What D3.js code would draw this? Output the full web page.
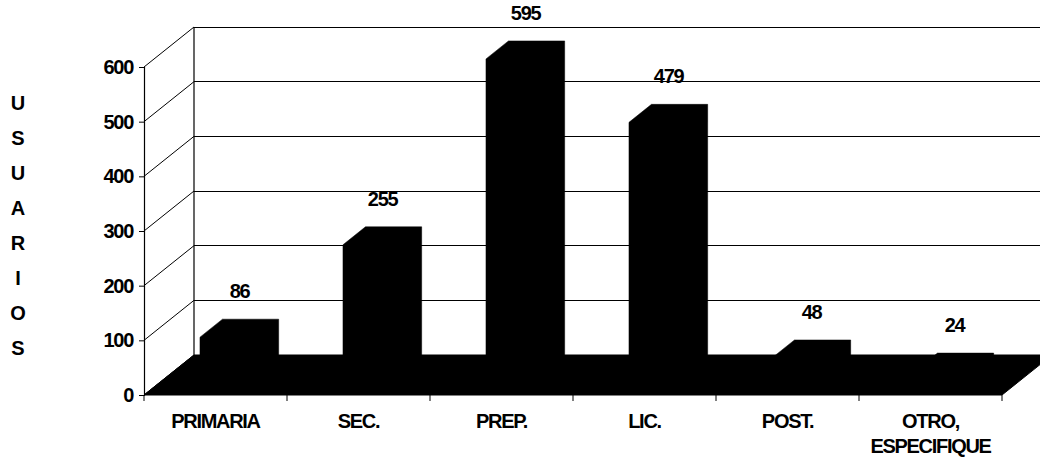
<!DOCTYPE html>
<html>
<head>
<meta charset="utf-8">
<script src="https://cdn.jsdelivr.net/npm/d3@7/dist/d3.min.js"></script>
<style>
  html, body { margin: 0; padding: 0; background: #fff; }
  svg { display: block; }
  text { font-family: "Liberation Sans", Arial, sans-serif; fill: #000; font-weight: bold; }
</style>
</head>
<body>
<svg id="chart" width="1040" height="465"></svg>
<script>
// Usuarios por nivel de estudios
const categories = ["PRIMARIA", "SEC.", "PREP.", "LIC.", "POST.", "OTRO, ESPECIFIQUE"];
const values = [86, 255, 595, 479, 48, 24];
const yTicks = [0, 100, 200, 300, 400, 500, 600];
const axisTitle = "USUARIOS";

const svg = d3.select("#chart");

// Front plane scales
const x = d3.scaleBand().domain(categories).range([144, 1002]).paddingInner(0).paddingOuter(0);
const y = d3.scaleLinear().domain([0, 600]).range([395, 67]);

// Oblique depth of the 3D box (full depth offset)
const DX = 50, DY = -40;
const P = (px, py, d) => [px + DX * d, py + DY * d];

// Bar placement inside a band and along the depth
const barFrom = 0.297, barTo = 0.69;
const depthFront = 0.27, depthBack = 0.72;

const g = svg.append("g");

// Back wall gridlines
g.append("g").selectAll("line").data(yTicks.filter(t => t > 0)).join("line")
  .attr("x1", P(x.range()[0], 0, 1)[0])
  .attr("x2", P(x.range()[1], 0, 1)[0])
  .attr("y1", d => P(0, y(d), 1)[1])
  .attr("y2", d => P(0, y(d), 1)[1])
  .attr("stroke", "#000").attr("stroke-width", 1).attr("shape-rendering", "crispEdges");

// Side wall gridlines
g.append("g").selectAll("line").data(yTicks).join("line")
  .attr("x1", x.range()[0]).attr("y1", d => y(d))
  .attr("x2", P(x.range()[0], 0, 1)[0]).attr("y2", d => P(0, y(d), 1)[1])
  .attr("stroke", "#000").attr("stroke-width", 1);

// Back wall left edge
g.append("line")
  .attr("x1", P(x.range()[0], 0, 1)[0]).attr("x2", P(x.range()[0], 0, 1)[0])
  .attr("y1", P(0, y(600), 1)[1]).attr("y2", P(0, y(0), 1)[1])
  .attr("stroke", "#000").attr("stroke-width", 1.2);

// Floor
const x0 = x.range()[0], x1 = x.range()[1];
g.append("polygon")
  .attr("points", [[x0, y(0)], P(x0, y(0), 1), P(x1, y(0), 1), [x1, y(0)]].map(p => p.join(",")).join(" "))
  .attr("fill", "#000").attr("stroke", "#000");

// Bars: solid silhouette of the front, top and side faces
const bars = g.append("g").selectAll("g").data(categories.map((c, i) => ({ c, v: values[i] }))).join("g");
bars.append("polygon")
  .attr("points", d => {
    const bw = x.bandwidth();
    const lx = x(d.c) + bw * barFrom, rx = x(d.c) + bw * barTo;
    const top = y(d.v), base = y(0);
    return [
      P(lx, base, depthFront), P(lx, top, depthFront), P(lx, top, depthBack),
      P(rx, top, depthBack), P(rx, base, depthBack), P(rx, base, depthFront)
    ].map(p => p.join(",")).join(" ");
  })
  .attr("fill", "#000").attr("stroke", "#000").attr("stroke-width", 0.5);

// Value labels above the bars
bars.append("text")
  .attr("x", d => P(x(d.c) + x.bandwidth() * (barFrom + barTo) / 2, 0, 0.5)[0])
  .attr("y", d => P(0, y(d.v), depthBack)[1] - 21)
  .attr("text-anchor", "middle")
  .attr("font-size", 20)
  .attr("letter-spacing", "-1.3px")
  .text(d => d.v);

// Y axis
const yAxis = g.append("g").attr("transform", `translate(${x0},0)`)
  .call(d3.axisLeft(y).tickValues(yTicks).tickSize(5).tickPadding(6).tickFormat(d3.format("d")));
yAxis.select(".domain").attr("stroke", "#000").attr("stroke-width", 1.2);
yAxis.selectAll(".tick line").attr("stroke", "#000");
yAxis.selectAll(".tick text")
  .attr("font-size", 20).attr("letter-spacing", "-1.3px")
  .style("font-family", "'Liberation Sans', Arial, sans-serif")
  .style("font-weight", "bold").attr("fill", "#000");

// X axis ticks at band boundaries
const bounds = categories.map(c => x(c)).concat([x1]);
g.append("g").selectAll("line").data(bounds).join("line")
  .attr("x1", d => d).attr("x2", d => d)
  .attr("y1", y(0)).attr("y2", y(0) + 6)
  .attr("stroke", "#000").attr("stroke-width", 1);

// Category labels
const catLabels = g.append("g").selectAll("text").data(categories).join("text")
  .attr("x", d => x(d) + x.bandwidth() / 2)
  .attr("y", 428)
  .attr("text-anchor", "middle")
  .attr("font-size", 20)
  .attr("letter-spacing", "-1.3px");
catLabels.each(function (d) {
  const lines = d.split(/(?<=,) /);
  d3.select(this).selectAll("tspan").data(lines).join("tspan")
    .attr("x", x(d) + x.bandwidth() / 2)
    .attr("dy", (l, i) => i === 0 ? 0 : 25)
    .text(l => l);
});

// Vertical axis title, one letter per line
g.append("g").selectAll("text").data(axisTitle.split("")).join("text")
  .attr("x", 18)
  .attr("y", (d, i) => 110 + i * 35)
  .attr("text-anchor", "middle")
  .attr("font-size", 20)
  .text(d => d);
</script>
</body>
</html>
